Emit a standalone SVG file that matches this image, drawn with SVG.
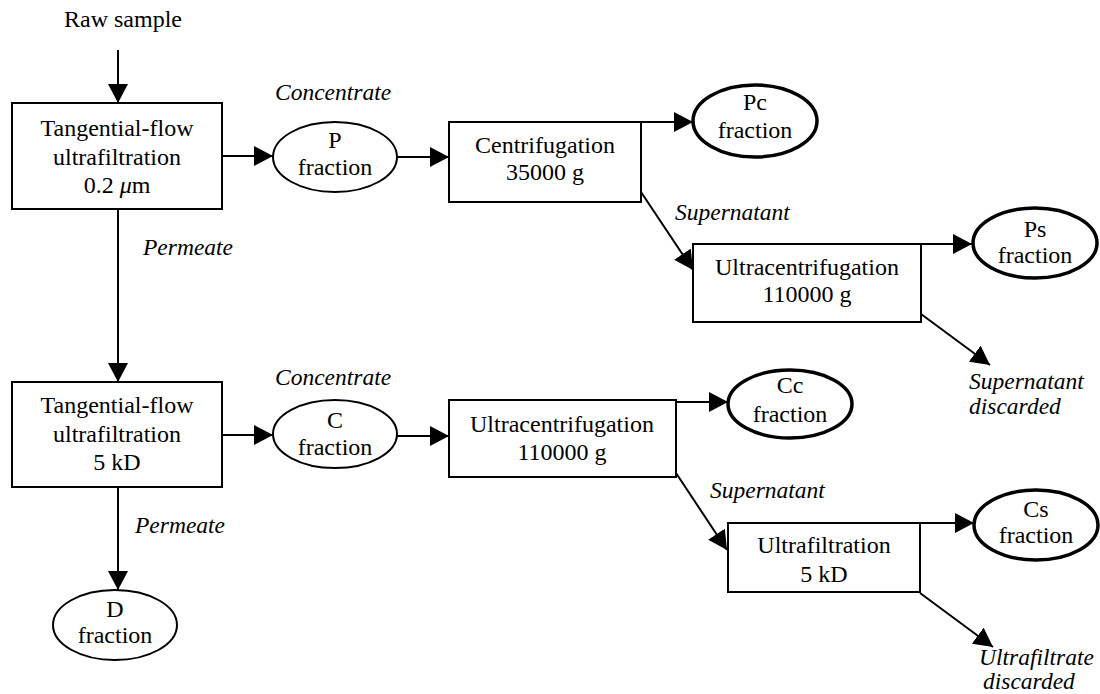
<svg xmlns="http://www.w3.org/2000/svg" width="1100" height="694" viewBox="0 0 1100 694">
<style>
text{font-family:"Liberation Serif","Times New Roman",serif;font-size:24px;fill:#000}
.c{text-anchor:middle}
.i{font-style:italic;font-size:23.5px}
.box{fill:#fff;stroke:#000;stroke-width:2}
.ell{fill:#fff;stroke:#000;stroke-width:2}
.bold{fill:#fff;stroke:#000;stroke-width:3.5}
.ln{fill:none;stroke:#000;stroke-width:2;marker-end:url(#ah)}
</style>
<defs>
<marker id="ah" markerUnits="userSpaceOnUse" markerWidth="20" markerHeight="20" refX="19" refY="10" orient="auto" viewBox="0 0 20 20">
<path d="M0,0 L19,10 L0,20 z" fill="#000"/>
</marker>
</defs>
<rect width="1100" height="694" fill="#fff"/>
<g id="connectors">
<line class="ln" x1="118" y1="50" x2="118" y2="103"/>
<line class="ln" x1="222" y1="156" x2="273" y2="156"/>
<line class="ln" x1="397" y1="157" x2="449" y2="157"/>
<line class="ln" x1="641" y1="122" x2="693" y2="122"/>
<line class="ln" x1="641" y1="192" x2="693" y2="270"/>
<line class="ln" x1="921" y1="244" x2="972" y2="244"/>
<line class="ln" x1="921" y1="314" x2="990" y2="365"/>
<line class="ln" x1="118" y1="209" x2="118" y2="382"/>
<line class="ln" x1="222" y1="435" x2="273" y2="435"/>
<line class="ln" x1="397" y1="436" x2="449" y2="436"/>
<line class="ln" x1="676" y1="402" x2="728" y2="402"/>
<line class="ln" x1="676" y1="473" x2="727" y2="550"/>
<line class="ln" x1="920" y1="523" x2="974" y2="523"/>
<line class="ln" x1="920" y1="593" x2="993" y2="647"/>
<line class="ln" x1="118" y1="487" x2="118" y2="590"/>
</g>
<g id="labels">
<text class="c" x="123" y="27">Raw sample</text>
<text class="i" x="275" y="100">Concentrate</text>
<text class="i" x="143" y="255">Permeate</text>
<text class="i" x="675" y="220">Supernatant</text>
<text class="i" x="969" y="389">Supernatant</text>
<text class="i" x="969" y="414">discarded</text>
<text class="i" x="275" y="385">Concentrate</text>
<text class="i" x="135" y="533">Permeate</text>
<text class="i" x="710" y="498">Supernatant</text>
<text class="i" x="979" y="665">Ultrafiltrate</text>
<text class="i" x="983" y="689">discarded</text>
</g>
<g id="tfu1">
<rect class="box" x="12" y="103" width="210" height="106"/>
<text class="c" x="117" y="136">Tangential-flow</text>
<text class="c" x="117" y="165">ultrafiltration</text>
<text class="c" x="117" y="193">0.2 <tspan font-style="italic">μ</tspan>m</text>
</g>
<g id="pfrac">
<ellipse class="ell" cx="335" cy="157" rx="62" ry="35"/>
<text class="c" x="335" y="148">P</text>
<text class="c" x="335" y="175">fraction</text>
</g>
<g id="centrif">
<rect class="box" x="449" y="122" width="192" height="80"/>
<text class="c" x="545" y="153">Centrifugation</text>
<text class="c" x="545" y="180">35000 g</text>
</g>
<g id="pc">
<ellipse class="bold" cx="755" cy="121" rx="62" ry="36"/>
<text class="c" x="755" y="110">Pc</text>
<text class="c" x="755" y="138">fraction</text>
</g>
<g id="ucp">
<rect class="box" x="693" y="244" width="228" height="78"/>
<text class="c" x="807" y="275">Ultracentrifugation</text>
<text class="c" x="807" y="302">110000 g</text>
</g>
<g id="ps">
<ellipse class="bold" cx="1035" cy="243" rx="62" ry="35"/>
<text class="c" x="1035" y="237">Ps</text>
<text class="c" x="1035" y="263">fraction</text>
</g>
<g id="tfu2">
<rect class="box" x="12" y="382" width="210" height="105"/>
<text class="c" x="117" y="413">Tangential-flow</text>
<text class="c" x="117" y="442">ultrafiltration</text>
<text class="c" x="117" y="470">5 kD</text>
</g>
<g id="cfrac">
<ellipse class="ell" cx="335" cy="434" rx="62" ry="34"/>
<text class="c" x="335" y="428">C</text>
<text class="c" x="335" y="455">fraction</text>
</g>
<g id="ucc">
<rect class="box" x="449" y="400" width="227" height="77"/>
<text class="c" x="562" y="432">Ultracentrifugation</text>
<text class="c" x="562" y="460">110000 g</text>
</g>
<g id="cc">
<ellipse class="bold" cx="790" cy="404" rx="62" ry="34"/>
<text class="c" x="790" y="393">Cc</text>
<text class="c" x="790" y="422">fraction</text>
</g>
<g id="uf">
<rect class="box" x="728" y="523" width="192" height="69"/>
<text class="c" x="824" y="553">Ultrafiltration</text>
<text class="c" x="824" y="582">5 kD</text>
</g>
<g id="cs">
<ellipse class="bold" cx="1036" cy="525" rx="62" ry="35"/>
<text class="c" x="1036" y="517">Cs</text>
<text class="c" x="1036" y="543">fraction</text>
</g>
<g id="dfrac">
<ellipse class="ell" cx="115" cy="625" rx="62" ry="35"/>
<text class="c" x="115" y="617">D</text>
<text class="c" x="115" y="643">fraction</text>
</g>
</svg>
